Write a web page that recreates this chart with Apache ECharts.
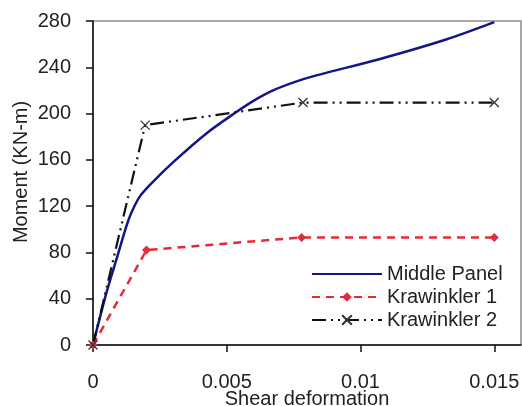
<!DOCTYPE html>
<html>
<head>
<meta charset="utf-8">
<script src="https://cdn.jsdelivr.net/npm/echarts@6/dist/echarts.min.js"></script>
<style>
html, body { margin: 0; padding: 0; background: #fff; }
#chart { width: 522px; height: 406px; }
</style>
</head>
<body>
<div id="chart"></div>
<script>
// values
var middlePanel = [
    [0, 0], [0.0005, 45], [0.00087, 73.5], [0.00124, 102], [0.00143, 114],
    [0.00174, 128], [0.00224, 141], [0.003, 158], [0.00425, 183],
    [0.00537, 201.5], [0.006, 211], [0.00673, 220], [0.0075, 227],
    [0.00835, 233], [0.0107, 247], [0.0132, 264], [0.015, 279]
];
var krawinkler1 = [[0, 0], [0.002, 82], [0.0078, 93], [0.015, 93]];
var krawinkler2 = [[0, 0], [0.00195, 190], [0.00785, 209.5], [0.015, 209.5]];
var xTicks = [0, 0.005, 0.01, 0.015];
var seriesNames = ['Middle Panel', 'Krawinkler 1', 'Krawinkler 2'];

var font = 'Liberation Sans, Arial, sans-serif';
var crossPath = 'path://M0,0L10,10M10,0L0,10';

var chart = echarts.init(document.getElementById('chart'));

chart.setOption({
    animation: false,
    backgroundColor: '#fff',
    textStyle: { fontFamily: font },
    grid: {
        left: 93, top: 21, right: 1, bottom: 61,
        outerBoundsMode: 'none',
        show: true, borderColor: '#8c8c8c', borderWidth: 1.5
    },
    legend: {
        orient: 'vertical',
        left: 306, top: 259,
        itemWidth: 70, itemHeight: 12, itemGap: 3,
        textStyle: { fontSize: 20, color: '#222', fontFamily: font },
        data: [
            { name: seriesNames[0], itemStyle: { opacity: 0 } },
            seriesNames[1],
            seriesNames[2]
        ]
    },
    xAxis: {
        type: 'value',
        min: 0, max: 0.016,
        name: 'Shear deformation',
        nameLocation: 'middle',
        nameGap: 44,
        nameMoveOverlap: false,
        nameTextStyle: { fontSize: 20, color: '#222', fontFamily: font },
        splitLine: { show: false },
        axisLine: { lineStyle: { color: '#111', width: 1.5 } },
        axisTick: { customValues: xTicks, length: 7, lineStyle: { color: '#111', width: 1.5 } },
        axisLabel: { customValues: xTicks, margin: 27, fontSize: 20, color: '#222' }
    },
    yAxis: {
        type: 'value',
        min: 0, max: 280, interval: 40,
        name: 'Moment (KN-m)',
        nameLocation: 'middle',
        nameGap: 62,
        nameMoveOverlap: false,
        nameTextStyle: { fontSize: 20, color: '#222', fontFamily: font, padding: [0, 0, 0, 22] },
        splitLine: { show: false },
        axisLine: { show: true, lineStyle: { color: '#111', width: 1.5 } },
        axisTick: { show: true, length: 7, lineStyle: { color: '#111', width: 1.5 } },
        axisLabel: { margin: 22, fontSize: 20, color: '#222' }
    },
    series: [
        {
            name: seriesNames[0],
            type: 'line',
            data: middlePanel,
            smooth: 0.3,
            symbol: 'none',
            lineStyle: { color: '#15158a', width: 2.5 },
            itemStyle: { color: '#15158a' }
        },
        {
            name: seriesNames[1],
            type: 'line',
            data: krawinkler1,
            symbol: 'diamond',
            symbolSize: 9,
            lineStyle: { color: '#e8283a', width: 2.5, type: [8, 6] },
            itemStyle: { color: '#d8303e' }
        },
        {
            name: seriesNames[2],
            type: 'line',
            data: krawinkler2,
            symbol: crossPath,
            symbolSize: 9,
            lineStyle: { color: '#111', width: 2.2, type: [14, 5, 2, 5, 2, 5] },
            itemStyle: { color: '#333', borderColor: '#333', borderWidth: 1.3 }
        }
    ]
});

window.addEventListener('resize', function() {
    chart.resize();
});
</script>
</body>
</html>
